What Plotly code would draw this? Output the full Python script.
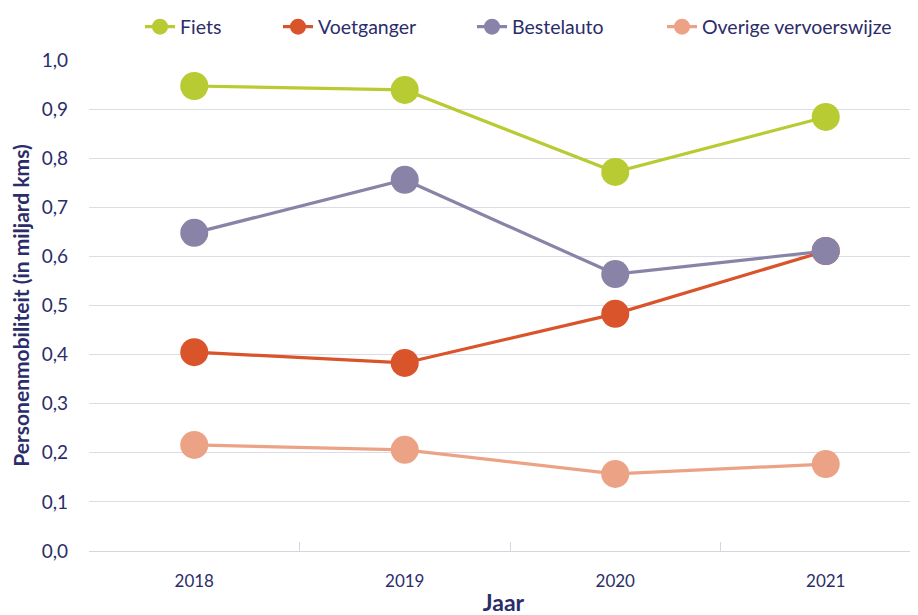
import plotly.graph_objects as go

years = ["2018", "2019", "2020", "2021"]
fiets = [0.947, 0.939, 0.772, 0.884]
voetganger = [0.405, 0.383, 0.483, 0.611]
bestelauto = [0.648, 0.756, 0.564, 0.611]
overige = [0.216, 0.206, 0.157, 0.177]

series = [
    ("Fiets", fiets, "#b8cb32"),
    ("Voetganger", voetganger, "#d9532b"),
    ("Bestelauto", bestelauto, "#8983a7"),
    ("Overige vervoerswijze", overige, "#eca385"),
]
text_color = "#2b2d6a"
font_family = "Lato, 'Open Sans', sans-serif"

# page has an 8px body margin; target plot area in page coords: x 89..918, y 60..551
OFF = 8
W, H = 918, 615
PL, PT, PR, PB = 89, 60, 918, 551
L = PL - OFF
T = PT - OFF
R = W - (PR - OFF)
B = H - (PB - OFF)
pw = PR - PL
ph = PB - PT

legend_px = [140, 278, 472, 662]

fig = go.Figure()
layout_legends = {}
for i, (name, vals, col) in enumerate(series):
    lname = "legend" if i == 0 else f"legend{i+1}"
    fig.add_trace(go.Scatter(
        x=years, y=vals, name=name, mode="lines+markers",
        line=dict(color=col, width=3.2),
        marker=dict(color=col, size=28),
        legend=lname,
    ))
    layout_legends[lname] = dict(
        x=(legend_px[i] - PL) / pw, xref="paper", xanchor="left",
        y=1 + (PT - 27) / ph, yanchor="middle",
        orientation="h", bgcolor="rgba(0,0,0,0)",
        font=dict(size=19.5, color=text_color, family=font_family),
        itemwidth=30,
    )

fig.update_layout(
    width=W, height=H,
    margin=dict(l=L, r=R, t=T, b=B, autoexpand=False),
    paper_bgcolor="white", plot_bgcolor="white",
    font=dict(family=font_family, color=text_color, size=17),
    showlegend=True,
    separators=",.",
    **layout_legends,
)
fig.update_xaxes(
    type="category", range=[-0.5, -0.5 + pw / 210.5], automargin=False,
    showgrid=False, showline=True, linecolor="#d6d6e0", linewidth=1,
    ticks="inside", tickson="boundaries", ticklen=9, tickcolor="#d6d6e0",
    tickfont=dict(size=17, color=text_color), ticklabelstandoff=15,
    title=dict(text="<b>Jaar</b>", font=dict(size=23, color=text_color), standoff=4),
    zeroline=False,
)
fig.update_yaxes(
    range=[0, 1.0], dtick=0.1, tickformat=".1f", automargin=False,
    showgrid=True, gridcolor="#dcdce4", gridwidth=1,
    showline=False, zeroline=False,
    ticks="", tickfont=dict(size=19, color=text_color), ticklabelstandoff=20,
    title=dict(text="<b>Personenmobiliteit (in miljard kms)</b>", font=dict(size=21, color=text_color), standoff=8),
)
fig.write_html("out.html")
